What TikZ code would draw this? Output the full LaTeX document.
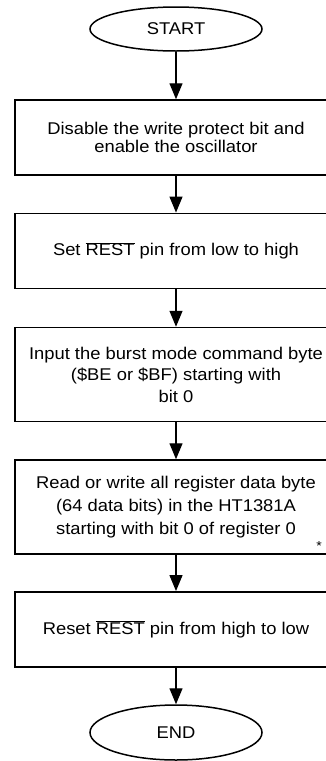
\documentclass[tikz,border=0pt]{standalone}
\usepackage{fontspec}
\setmainfont[FakeStretch=1.08]{Liberation Sans}
\usetikzlibrary{arrows.meta,shapes.geometric}
\newcommand{\ovl}[1]{\ensuremath{\overline{\mbox{#1}}}}
\begin{document}
\begin{tikzpicture}[x=1pt,y=-1pt,
  every node/.style={font=\fontsize{17}{18.5}\selectfont},
  term/.style={draw,ellipse,line width=1.5pt,minimum width=172pt,inner sep=0pt},
  stepbox/.style={draw,rectangle,line width=1.5pt,minimum width=322pt,align=center,inner sep=0pt},
  flow/.style={line width=1.3pt,-{Triangle[length=16pt,width=13pt]}}
]
\useasboundingbox (0,0) rectangle (326,761);
\node[term,minimum height=44pt] (start) at (176,29) {START};
\node[stepbox,minimum height=75pt] (b1) at (176,137.5) {Disable the write protect bit and\\enable the oscillator};
\node[stepbox,minimum height=75pt] (b2) at (176,250.8) {Set \ovl{REST} pin from low to high};
\node[stepbox,minimum height=94pt,font=\fontsize{17}{21.5}\selectfont] (b3) at (176,374.5) {Input the burst mode command byte\\(\$BE or \$BF) starting with\\bit 0};
\node[stepbox,minimum height=94pt,font=\fontsize{17}{23}\selectfont] (b4) at (176,507) {Read or write all register data byte\\(64 data bits) in the HT1381A\\starting with bit 0 of register 0};
\node[font=\fontsize{13}{14}\selectfont,inner sep=0pt] (ast) at (319,546) {*};
\node[stepbox,minimum height=75pt] (b5) at (176,629.3) {Reset \ovl{REST} pin from high to low};
\node[term,minimum height=55pt] (end) at (176,732.5) {END};
\draw[flow] (start) -- (b1);
\draw[flow] (b1) -- (b2);
\draw[flow] (b2) -- (b3);
\draw[flow] (b3) -- (b4);
\draw[flow] (b4) -- (b5);
\draw[flow] (b5) -- (end);
\end{tikzpicture}
\end{document}
